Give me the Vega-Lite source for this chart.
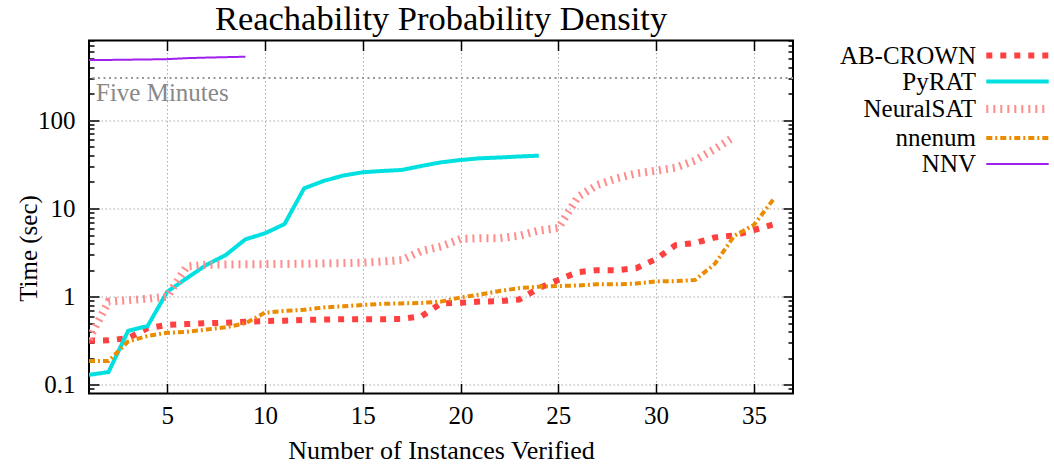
{
  "$schema": "https://vega.github.io/schema/vega-lite/v6.json",
  "width": 704,
  "height": 353,
  "autosize": {"type": "none"},
  "padding": {"left": 89, "top": 40.5, "right": 261, "bottom": 73.5},
  "title": {"text": "Reachability Probability Density", "font": "Liberation Serif", "fontSize": 34.5, "fontWeight": "normal", "color": "black", "anchor": "middle", "baseline": "alphabetic", "offset": 10, "dy": 35},
  "config": {
    "view": {"stroke": "black", "strokeWidth": 2},
    "axis": {"labelFont": "Liberation Serif", "labelFontSize": 25, "labelColor": "black", "titleFont": "Liberation Serif", "titleFontSize": 25, "titleFontWeight": "normal", "titleColor": "black", "domain": false, "tickColor": "black", "tickWidth": 1.5, "gridColor": "#aaaaaa", "gridDash": [1.5, 2.5], "gridWidth": 1, "labelFlush": false}
  },
  "datasets": {
    "perf": [
      {"s": "AB-CROWN", "n": 1, "t": 0.317}, {"s": "AB-CROWN", "n": 2, "t": 0.32}, {"s": "AB-CROWN", "n": 3, "t": 0.34}, {"s": "AB-CROWN", "n": 4, "t": 0.44}, {"s": "AB-CROWN", "n": 5, "t": 0.48}, {"s": "AB-CROWN", "n": 6, "t": 0.49}, {"s": "AB-CROWN", "n": 7, "t": 0.5}, {"s": "AB-CROWN", "n": 8, "t": 0.507}, {"s": "AB-CROWN", "n": 9, "t": 0.52}, {"s": "AB-CROWN", "n": 10, "t": 0.53}, {"s": "AB-CROWN", "n": 11, "t": 0.535}, {"s": "AB-CROWN", "n": 12, "t": 0.545}, {"s": "AB-CROWN", "n": 13, "t": 0.55}, {"s": "AB-CROWN", "n": 14, "t": 0.555}, {"s": "AB-CROWN", "n": 15, "t": 0.555}, {"s": "AB-CROWN", "n": 16, "t": 0.556}, {"s": "AB-CROWN", "n": 17, "t": 0.56}, {"s": "AB-CROWN", "n": 18, "t": 0.6}, {"s": "AB-CROWN", "n": 19, "t": 0.84}, {"s": "AB-CROWN", "n": 20, "t": 0.855}, {"s": "AB-CROWN", "n": 21, "t": 0.88}, {"s": "AB-CROWN", "n": 22, "t": 0.89}, {"s": "AB-CROWN", "n": 23, "t": 0.93}, {"s": "AB-CROWN", "n": 24, "t": 1.25}, {"s": "AB-CROWN", "n": 25, "t": 1.55}, {"s": "AB-CROWN", "n": 26, "t": 1.9}, {"s": "AB-CROWN", "n": 27, "t": 2.0}, {"s": "AB-CROWN", "n": 28, "t": 2.0}, {"s": "AB-CROWN", "n": 29, "t": 2.11}, {"s": "AB-CROWN", "n": 30, "t": 2.67}, {"s": "AB-CROWN", "n": 31, "t": 3.85}, {"s": "AB-CROWN", "n": 32, "t": 4.06}, {"s": "AB-CROWN", "n": 33, "t": 4.69}, {"s": "AB-CROWN", "n": 34, "t": 4.94}, {"s": "AB-CROWN", "n": 35, "t": 5.7}, {"s": "AB-CROWN", "n": 36, "t": 6.6},
      {"s": "PyRAT", "n": 1, "t": 0.13}, {"s": "PyRAT", "n": 2, "t": 0.14}, {"s": "PyRAT", "n": 3, "t": 0.41}, {"s": "PyRAT", "n": 4, "t": 0.466}, {"s": "PyRAT", "n": 5, "t": 1.14}, {"s": "PyRAT", "n": 6, "t": 1.62}, {"s": "PyRAT", "n": 7, "t": 2.29}, {"s": "PyRAT", "n": 8, "t": 2.97}, {"s": "PyRAT", "n": 9, "t": 4.47}, {"s": "PyRAT", "n": 10, "t": 5.23}, {"s": "PyRAT", "n": 11, "t": 6.66}, {"s": "PyRAT", "n": 12, "t": 16.9}, {"s": "PyRAT", "n": 13, "t": 20.5}, {"s": "PyRAT", "n": 14, "t": 23.6}, {"s": "PyRAT", "n": 15, "t": 25.7}, {"s": "PyRAT", "n": 16, "t": 26.6}, {"s": "PyRAT", "n": 17, "t": 27.3}, {"s": "PyRAT", "n": 18, "t": 30.3}, {"s": "PyRAT", "n": 19, "t": 33.3}, {"s": "PyRAT", "n": 20, "t": 35.4}, {"s": "PyRAT", "n": 21, "t": 37.0}, {"s": "PyRAT", "n": 22, "t": 37.8}, {"s": "PyRAT", "n": 23, "t": 38.8}, {"s": "PyRAT", "n": 24, "t": 39.6},
      {"s": "NeuralSAT", "n": 1, "t": 0.33}, {"s": "NeuralSAT", "n": 2, "t": 0.88}, {"s": "NeuralSAT", "n": 3, "t": 0.91}, {"s": "NeuralSAT", "n": 4, "t": 0.95}, {"s": "NeuralSAT", "n": 5, "t": 1.0}, {"s": "NeuralSAT", "n": 6, "t": 2.2}, {"s": "NeuralSAT", "n": 7, "t": 2.3}, {"s": "NeuralSAT", "n": 8, "t": 2.32}, {"s": "NeuralSAT", "n": 9, "t": 2.33}, {"s": "NeuralSAT", "n": 10, "t": 2.34}, {"s": "NeuralSAT", "n": 11, "t": 2.35}, {"s": "NeuralSAT", "n": 12, "t": 2.36}, {"s": "NeuralSAT", "n": 13, "t": 2.38}, {"s": "NeuralSAT", "n": 14, "t": 2.4}, {"s": "NeuralSAT", "n": 15, "t": 2.43}, {"s": "NeuralSAT", "n": 16, "t": 2.5}, {"s": "NeuralSAT", "n": 17, "t": 2.6}, {"s": "NeuralSAT", "n": 18, "t": 3.3}, {"s": "NeuralSAT", "n": 19, "t": 3.7}, {"s": "NeuralSAT", "n": 20, "t": 4.5}, {"s": "NeuralSAT", "n": 21, "t": 4.6}, {"s": "NeuralSAT", "n": 22, "t": 4.6}, {"s": "NeuralSAT", "n": 23, "t": 4.9}, {"s": "NeuralSAT", "n": 24, "t": 5.6}, {"s": "NeuralSAT", "n": 25, "t": 6.0}, {"s": "NeuralSAT", "n": 26, "t": 13.5}, {"s": "NeuralSAT", "n": 27, "t": 18.5}, {"s": "NeuralSAT", "n": 28, "t": 22.0}, {"s": "NeuralSAT", "n": 29, "t": 25.0}, {"s": "NeuralSAT", "n": 30, "t": 26.8}, {"s": "NeuralSAT", "n": 31, "t": 29.0}, {"s": "NeuralSAT", "n": 32, "t": 35.0}, {"s": "NeuralSAT", "n": 33, "t": 47.0}, {"s": "NeuralSAT", "n": 34, "t": 65.0},
      {"s": "nnenum", "n": 1, "t": 0.187}, {"s": "nnenum", "n": 2, "t": 0.187}, {"s": "nnenum", "n": 3, "t": 0.31}, {"s": "nnenum", "n": 4, "t": 0.36}, {"s": "nnenum", "n": 5, "t": 0.39}, {"s": "nnenum", "n": 6, "t": 0.4}, {"s": "nnenum", "n": 7, "t": 0.425}, {"s": "nnenum", "n": 8, "t": 0.45}, {"s": "nnenum", "n": 9, "t": 0.5}, {"s": "nnenum", "n": 10, "t": 0.66}, {"s": "nnenum", "n": 11, "t": 0.69}, {"s": "nnenum", "n": 12, "t": 0.71}, {"s": "nnenum", "n": 13, "t": 0.755}, {"s": "nnenum", "n": 14, "t": 0.78}, {"s": "nnenum", "n": 15, "t": 0.805}, {"s": "nnenum", "n": 16, "t": 0.83}, {"s": "nnenum", "n": 17, "t": 0.84}, {"s": "nnenum", "n": 18, "t": 0.85}, {"s": "nnenum", "n": 19, "t": 0.88}, {"s": "nnenum", "n": 20, "t": 0.98}, {"s": "nnenum", "n": 21, "t": 1.06}, {"s": "nnenum", "n": 22, "t": 1.16}, {"s": "nnenum", "n": 23, "t": 1.25}, {"s": "nnenum", "n": 24, "t": 1.3}, {"s": "nnenum", "n": 25, "t": 1.32}, {"s": "nnenum", "n": 26, "t": 1.34}, {"s": "nnenum", "n": 27, "t": 1.38}, {"s": "nnenum", "n": 28, "t": 1.38}, {"s": "nnenum", "n": 29, "t": 1.41}, {"s": "nnenum", "n": 30, "t": 1.49}, {"s": "nnenum", "n": 31, "t": 1.5}, {"s": "nnenum", "n": 32, "t": 1.55}, {"s": "nnenum", "n": 33, "t": 2.35}, {"s": "nnenum", "n": 34, "t": 4.9}, {"s": "nnenum", "n": 35, "t": 6.5}, {"s": "nnenum", "n": 36, "t": 12.7},
      {"s": "NNV", "n": 1, "t": 480}, {"s": "NNV", "n": 2, "t": 482}, {"s": "NNV", "n": 3, "t": 485}, {"s": "NNV", "n": 4, "t": 488}, {"s": "NNV", "n": 5, "t": 492}, {"s": "NNV", "n": 6, "t": 505}, {"s": "NNV", "n": 7, "t": 512}, {"s": "NNV", "n": 8, "t": 518}, {"s": "NNV", "n": 9, "t": 524}
    ]
  },
  "layer": [
    {
      "data": {"name": "perf"},
      "mark": {"type": "line", "clip": true, "strokeCap": "butt"},
      "encoding": {
        "x": {"field": "n", "type": "quantitative", "scale": {"domain": [1, 37], "nice": false, "zero": false},
          "axis": {"orient": "bottom", "title": "Number of Instances Verified", "values": [5, 10, 15, 20, 25, 30, 35], "tickSize": -10, "labelPadding": 20, "grid": true, "titleY": 65, "titleBaseline": "alphabetic", "titleFontSize": 26}},
        "y": {"field": "t", "type": "quantitative", "scale": {"type": "log", "domain": [0.08, 800], "nice": false},
          "axis": {"orient": "left", "title": "Time (sec)", "format": "~g",
            "values": [0.09, 0.1, 0.2, 0.3, 0.4, 0.5, 0.6, 0.7, 0.8, 0.9, 1, 2, 3, 4, 5, 6, 7, 8, 9, 10, 20, 30, 40, 50, 60, 70, 80, 90, 100, 200, 300, 400, 500, 600, 700, 800],
            "tickSize": {"condition": {"test": "indexof([0.1,1,10,100], datum.value) >= 0", "value": -10}, "value": -5},
            "labelExpr": "indexof([0.1,1,10,100], datum.value) >= 0 ? datum.label : ''",
            "labelPadding": 24, "grid": true,
            "gridOpacity": {"condition": {"test": "indexof([0.1,1,10,100], datum.value) >= 0", "value": 1}, "value": 0},
            "titleX": -53, "titleY": 207.5, "titleBaseline": "alphabetic", "titleAlign": "center", "titleAngle": 270, "titleFontSize": 25, "titleLimit": 400}},
        "color": {"field": "s", "type": "nominal",
          "scale": {"domain": ["AB-CROWN", "PyRAT", "NeuralSAT", "nnenum", "NNV"], "range": ["#ff4040", "#00e0e0", "#ff8c8c", "#eb8c00", "#a020f0"]},
          "legend": {"title": null, "orient": "none", "legendX": 916, "legendY": 2.5, "symbolType": "M-6.24,0H6.24", "symbolSize": 100, "rowPadding": -2.5, "labelOffset": -54, "labelAlign": "right", "labelBaseline": "middle", "labelFont": "Liberation Serif", "labelFontSize": 25, "labelColor": "black", "padding": 0, "symbolOffset": 0, "labelLimit": 300, "encode": {"labels": {"update": {"lineHeight": {"value": 24}}}}}},
        "strokeDash": {"field": "s", "type": "nominal",
          "scale": {"domain": ["AB-CROWN", "PyRAT", "NeuralSAT", "nnenum", "NNV"], "range": [[6, 8], [1, 0], [2, 5], [6, 3, 2, 3], [1, 0]]},
          "legend": {"title": null, "orient": "none", "legendX": 916, "legendY": 2.5, "symbolType": "M-6.24,0H6.24", "symbolSize": 100, "rowPadding": -2.5, "labelOffset": -54, "labelAlign": "right", "labelBaseline": "middle", "labelFont": "Liberation Serif", "labelFontSize": 25, "labelColor": "black", "padding": 0, "symbolOffset": 0, "labelLimit": 300, "encode": {"labels": {"update": {"lineHeight": {"value": 24}}}}}},
        "strokeWidth": {"field": "s", "type": "nominal",
          "scale": {"type": "ordinal", "domain": ["AB-CROWN", "PyRAT", "NeuralSAT", "nnenum", "NNV"], "range": [6, 4, 8, 4, 2]},
          "legend": {"title": null, "orient": "none", "legendX": 916, "legendY": 2.5, "symbolType": "M-6.24,0H6.24", "symbolSize": 100, "rowPadding": -2.5, "labelOffset": -54, "labelAlign": "right", "labelBaseline": "middle", "labelFont": "Liberation Serif", "labelFontSize": 25, "labelColor": "black", "padding": 0, "symbolOffset": 0, "labelLimit": 300, "encode": {"labels": {"update": {"lineHeight": {"value": 24}}}}}},
        "order": {"field": "n", "type": "quantitative"}
      }
    },
    {
      "data": {"values": [{"t": 300}]},
      "mark": {"type": "rule", "color": "#999999", "strokeWidth": 2, "strokeDash": [2, 3.5]},
      "encoding": {
        "y": {"field": "t", "type": "quantitative", "scale": {"type": "log", "domain": [0.08, 800], "nice": false}, "axis": null}
      }
    },
    {
      "data": {"values": [{"n": 1, "t": 300, "label": "Five Minutes"}]},
      "mark": {"type": "text", "align": "left", "baseline": "alphabetic", "dx": 7, "dy": 23, "font": "Liberation Serif", "fontSize": 25, "color": "#888888"},
      "encoding": {
        "x": {"field": "n", "type": "quantitative", "scale": {"domain": [1, 37], "nice": false, "zero": false},
          "axis": {"orient": "top", "title": null, "values": [5, 10, 15, 20, 25, 30, 35], "tickSize": -10, "labels": false, "grid": false}},
        "y": {"field": "t", "type": "quantitative", "scale": {"type": "log", "domain": [0.08, 800], "nice": false},
          "axis": {"orient": "right", "title": null,
            "values": [0.09, 0.1, 0.2, 0.3, 0.4, 0.5, 0.6, 0.7, 0.8, 0.9, 1, 2, 3, 4, 5, 6, 7, 8, 9, 10, 20, 30, 40, 50, 60, 70, 80, 90, 100, 200, 300, 400, 500, 600, 700, 800],
            "tickSize": {"condition": {"test": "indexof([0.1,1,10,100], datum.value) >= 0", "value": -10}, "value": -5},
            "labels": false, "grid": false}},
        "text": {"field": "label"}
      }
    }
  ],
  "resolve": {"axis": {"x": "independent", "y": "independent"}}
}
